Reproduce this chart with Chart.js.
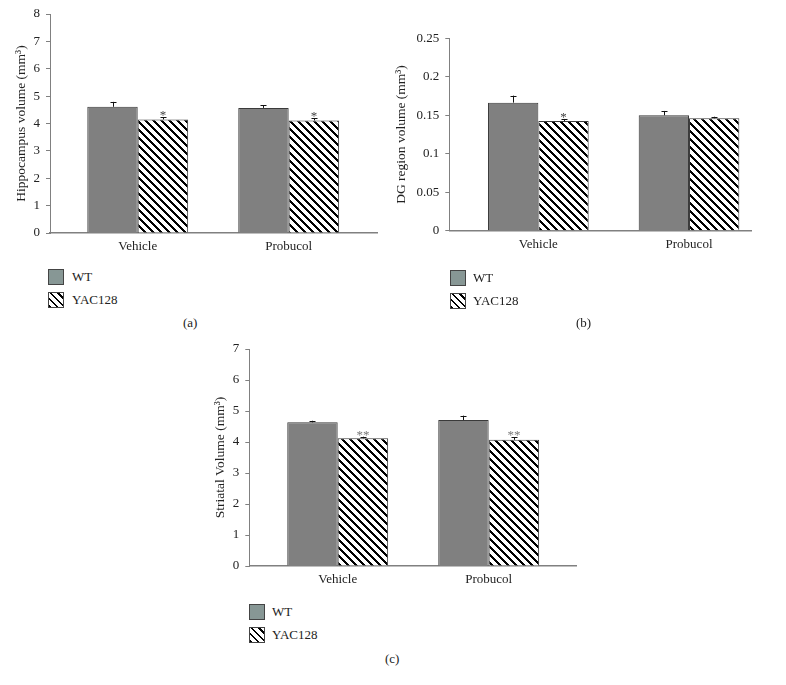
<!DOCTYPE html>
<html>
<head>
<meta charset="utf-8">
<script src="https://cdn.jsdelivr.net/npm/chart.js@4"></script>
<style>
  html, body { margin:0; padding:0; background:#fff; }
  body { width:786px; height:685px; position:relative; overflow:hidden; font-family:'Liberation Serif', serif; color:#222; }
  .panel { position:absolute; }
  .box { position:absolute; width:14px; height:14px; border:1px solid #444; box-sizing:content-box; }
  .wt { background:#879795; }
  .yac { background: repeating-linear-gradient(45deg, #000 0 2px, #fff 2px 5px); }
  .lt { position:absolute; font-size:13px; line-height:16px; white-space:nowrap; color:#222; }
</style>
</head>
<body>
<div class="panel" style="left:0px;top:0px;width:390px;height:262px"><canvas id="ca" width="390" height="262"></canvas></div>
<div class="panel" style="left:390px;top:0px;width:396px;height:262px"><canvas id="cb" width="396" height="262"></canvas></div>
<div class="panel" style="left:200px;top:330px;width:390px;height:262px"><canvas id="cc" width="390" height="262"></canvas></div>

<div class="box wt" style="left:48px;top:269px"></div><div class="lt" style="left:72px;top:269px">WT</div>
<div class="box yac" style="left:48px;top:292px"></div><div class="lt" style="left:72px;top:292px">YAC128</div>
<div class="lt" style="left:183px;top:315px">(a)</div>

<div class="box wt" style="left:450px;top:270px"></div><div class="lt" style="left:473px;top:270px">WT</div>
<div class="box yac" style="left:450px;top:293px"></div><div class="lt" style="left:473px;top:293px">YAC128</div>
<div class="lt" style="left:576px;top:315px">(b)</div>

<div class="box wt" style="left:249px;top:604px"></div><div class="lt" style="left:272px;top:604px">WT</div>
<div class="box yac" style="left:249px;top:627px"></div><div class="lt" style="left:272px;top:627px">YAC128</div>
<div class="lt" style="left:385px;top:651px">(c)</div>

<script>
// ---- data ----
const categories = ['Vehicle', 'Probucol'];
const seriesNames = ['WT', 'YAC128'];

const hippoWT = [4.61, 4.57];
const hippoWTErr = [0.18, 0.09];
const hippoYAC = [4.15, 4.11];
const hippoYACErr = [0.07, 0.08];
const hippoSig = ['*', '*'];
const hippoTicks = { min: 0, max: 8, step: 1 };

const dgWT = [0.1664, 0.150];
const dgWTErr = [0.0091, 0.0056];
const dgYAC = [0.1426, 0.1461];
const dgYACErr = [0.0026, 0.002];
const dgSig = ['*', ''];
const dgTicks = { min: 0, max: 0.25, step: 0.05 };

const striWT = [4.635, 4.71];
const striWTErr = [0.05, 0.14];
const striYAC = [4.12, 4.07];
const striYACErr = [0.05, 0.08];
const striSig = ['**', '**'];
const striTicks = { min: 0, max: 7, step: 1 };

// ---- styles ----
const FONT = 'Liberation Serif';
const AXIS = '#808080';

function hatchPattern() {
  const c = document.createElement('canvas');
  c.width = 8; c.height = 8;
  const g = c.getContext('2d');
  g.fillStyle = '#fff'; g.fillRect(0, 0, 8, 8);
  g.fillStyle = '#000';
  for (let y = 0; y < 8; y++) {
    for (let k = 0; k < 3; k++) {
      g.fillRect((y + k) % 8, y, 1, 1);
    }
  }
  return g.createPattern(c, 'repeat');
}

const errorPlugin = {
  id: 'errs',
  afterDatasetsDraw(chart) {
    const ctx = chart.ctx;
    const ys = chart.scales.y;
    chart.data.datasets.forEach((ds, i) => {
      const meta = chart.getDatasetMeta(i);
      meta.data.forEach((bar, j) => {
        const v = ds.data[j].y;
        const e = ds.errors[j];
        const top = ys.getPixelForValue(v + e);
        const x = Math.round(bar.x) + 0.5;
        ctx.save();
        ctx.strokeStyle = '#111';
        ctx.lineWidth = 1;
        ctx.beginPath();
        ctx.moveTo(x, bar.y);
        ctx.lineTo(x, top);
        ctx.moveTo(x - 3, Math.round(top) + 0.5);
        ctx.lineTo(x + 3, Math.round(top) + 0.5);
        ctx.stroke();
        const s = ds.sig ? ds.sig[j] : '';
        if (s) {
          ctx.fillStyle = ds.sigColor || '#555';
          ctx.font = '13px "' + FONT + '"';
          ctx.textAlign = 'center';
          ctx.textBaseline = 'alphabetic';
          ctx.fillText(s, bar.x, top + 2);
        }
        ctx.restore();
      });
    });
  }
};

function makeChart(id, cfg) {
  const toPts = arr => arr.map((v, i) => ({ x: i + 1, y: v }));
  return new Chart(document.getElementById(id), {
    type: 'bar',
    data: {
      datasets: [
        { label: seriesNames[0], data: toPts(cfg.wt), errors: cfg.wtErr,
          backgroundColor: '#808080', borderColor: '#3a3a3a', borderWidth: 1 },
        { label: seriesNames[1], data: toPts(cfg.yac), errors: cfg.yacErr, sig: cfg.sig, sigColor: cfg.sigColor,
          backgroundColor: hatchPattern(), borderColor: '#3a3a3a', borderWidth: 1 }
      ]
    },
    options: {
      responsive: false,
      animation: false,
      events: [],
      datasets: { bar: { categoryPercentage: 0.668, barPercentage: 1, grouped: true } },
      layout: { padding: { left: 0, right: cfg.padRight, top: cfg.padTop, bottom: 0 } },
      plugins: { legend: { display: false }, tooltip: { enabled: false } },
      scales: {
        x: {
          type: 'linear',
          offset: false,
          min: cfg.xmin, max: cfg.xmax,
          afterBuildTicks: s => { s.ticks = categories.map((c, i) => ({ value: i + 1 })); },
          afterFit: s => { s.height = cfg.xHeight; },
          ticks: {
            callback: v => categories[Math.round(v) - 1],
            font: { family: FONT, size: 13 }, color: '#222', padding: 6,
            autoSkip: false, maxRotation: 0
          },
          grid: { display: false, drawTicks: false },
          border: { display: true, color: AXIS, width: 1.5 }
        },
        y: {
          min: cfg.ticks.min, max: cfg.ticks.max,
          afterFit: s => { s.width = cfg.yWidth; },
          ticks: { stepSize: cfg.ticks.step, font: { family: FONT, size: 13 }, color: '#222', padding: 6,
                   callback: v => String(parseFloat(Number(v).toFixed(4))) },
          grid: { drawOnChartArea: false, drawTicks: true, tickLength: 4, color: AXIS },
          border: { display: true, color: AXIS, width: 1 },
          title: { display: true, text: cfg.title, font: { family: FONT, size: 13.5 }, color: '#222',
                   padding: { top: cfg.titlePad, bottom: 0 } }
        }
      }
    },
    plugins: [errorPlugin]
  });
}

makeChart('ca', {
  wt: hippoWT, wtErr: hippoWTErr, yac: hippoYAC, yacErr: hippoYACErr, sig: hippoSig, sigColor: '#444',
  ticks: hippoTicks, title: 'Hippocampus volume (mm³)',
  xmin: 0.419, xmax: 2.585, padRight: 13, padTop: 14, xHeight: 29, yWidth: 50, titlePad: 13
});
makeChart('cb', {
  wt: dgWT, wtErr: dgWTErr, yac: dgYAC, yacErr: dgYACErr, sig: dgSig, sigColor: '#444',
  ticks: dgTicks, title: 'DG region volume (mm³)',
  xmin: 0.409, xmax: 2.416, padRight: 34.3, padTop: 38.3, xHeight: 31.3, yWidth: 59.3, titlePad: 3
});
makeChart('cc', {
  wt: striWT, wtErr: striWTErr, yac: striYAC, yacErr: striYACErr, sig: striSig, sigColor: '#777',
  ticks: striTicks, title: 'Striatal Volume (mm³)',
  xmin: 0.4146, xmax: 2.583, padRight: 13.3, padTop: 19, xHeight: 26, yWidth: 49.3, titlePad: 12
});
</script>
</body>
</html>
